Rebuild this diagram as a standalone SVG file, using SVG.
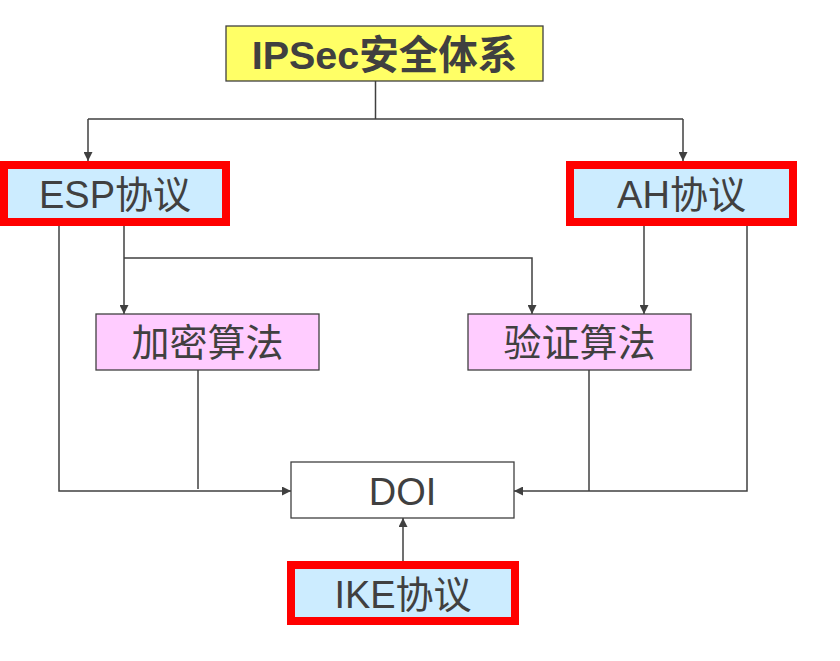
<svg xmlns="http://www.w3.org/2000/svg" width="840" height="661" viewBox="0 0 840 661">
<defs>
<marker id="ah" viewBox="0 0 10 10" refX="10" refY="5" markerWidth="9" markerHeight="9" markerUnits="userSpaceOnUse" orient="auto">
<path d="M0,0 L10,5 L0,10 Z" fill="#404040"/>
</marker>
<style>
.t{font-family:"Liberation Sans",Arial,"Noto Sans CJK SC",sans-serif;font-size:38px;fill:#404040;text-anchor:middle}
.b{font-weight:bold;font-size:39.5px}
.ln{stroke:#404040;stroke-width:1.5;fill:none}
.box{stroke:#404040;stroke-width:1.3}
.red{stroke:#FF0000;stroke-width:8;fill:#CCECFF}
</style>
</defs>
<g id="connectors">
<path class="ln" d="M375.5,81 V119 M88,119 H683"/>
<path class="ln" d="M88,119 V161" marker-end="url(#ah)"/>
<path class="ln" d="M683,119 V161" marker-end="url(#ah)"/>
<path class="ln" d="M124,226 V314" marker-end="url(#ah)"/>
<path class="ln" d="M124,258 H532 V314" marker-end="url(#ah)"/>
<path class="ln" d="M644,226 V314" marker-end="url(#ah)"/>
<path class="ln" d="M59,226 V491 H291" marker-end="url(#ah)"/>
<path class="ln" d="M198,370 V489"/>
<path class="ln" d="M747,226 V491 H514" marker-end="url(#ah)"/>
<path class="ln" d="M589,370 V491"/>
<path class="ln" d="M403,561 V518" marker-end="url(#ah)"/>
</g>
<g id="ipsec">
<rect class="box" x="226" y="26" width="317" height="55" fill="#FFFF66"/>
<text class="t b" x="384.5" y="69">IPSec安全体系</text>
</g>
<g id="esp">
<rect class="red" x="4" y="165" width="222" height="57"/>
<text class="t" x="115" y="208">ESP协议</text>
</g>
<g id="ah">
<rect class="red" x="570" y="165" width="223" height="57"/>
<text class="t" x="681.5" y="208">AH协议</text>
</g>
<g id="encrypt">
<rect class="box" x="96" y="314" width="223" height="56" fill="#FFCCFF"/>
<text class="t" x="207.5" y="356">加密算法</text>
</g>
<g id="auth">
<rect class="box" x="468" y="314" width="223" height="56" fill="#FFCCFF"/>
<text class="t" x="579.5" y="356">验证算法</text>
</g>
<g id="doi">
<rect class="box" x="291" y="462" width="223" height="56" fill="#FFFFFF" stroke-width="1"/>
<text class="t" x="402.5" y="505">DOI</text>
</g>
<g id="ike">
<rect class="red" x="291" y="565" width="224" height="56"/>
<text class="t" x="403" y="608">IKE协议</text>
</g>
</svg>
